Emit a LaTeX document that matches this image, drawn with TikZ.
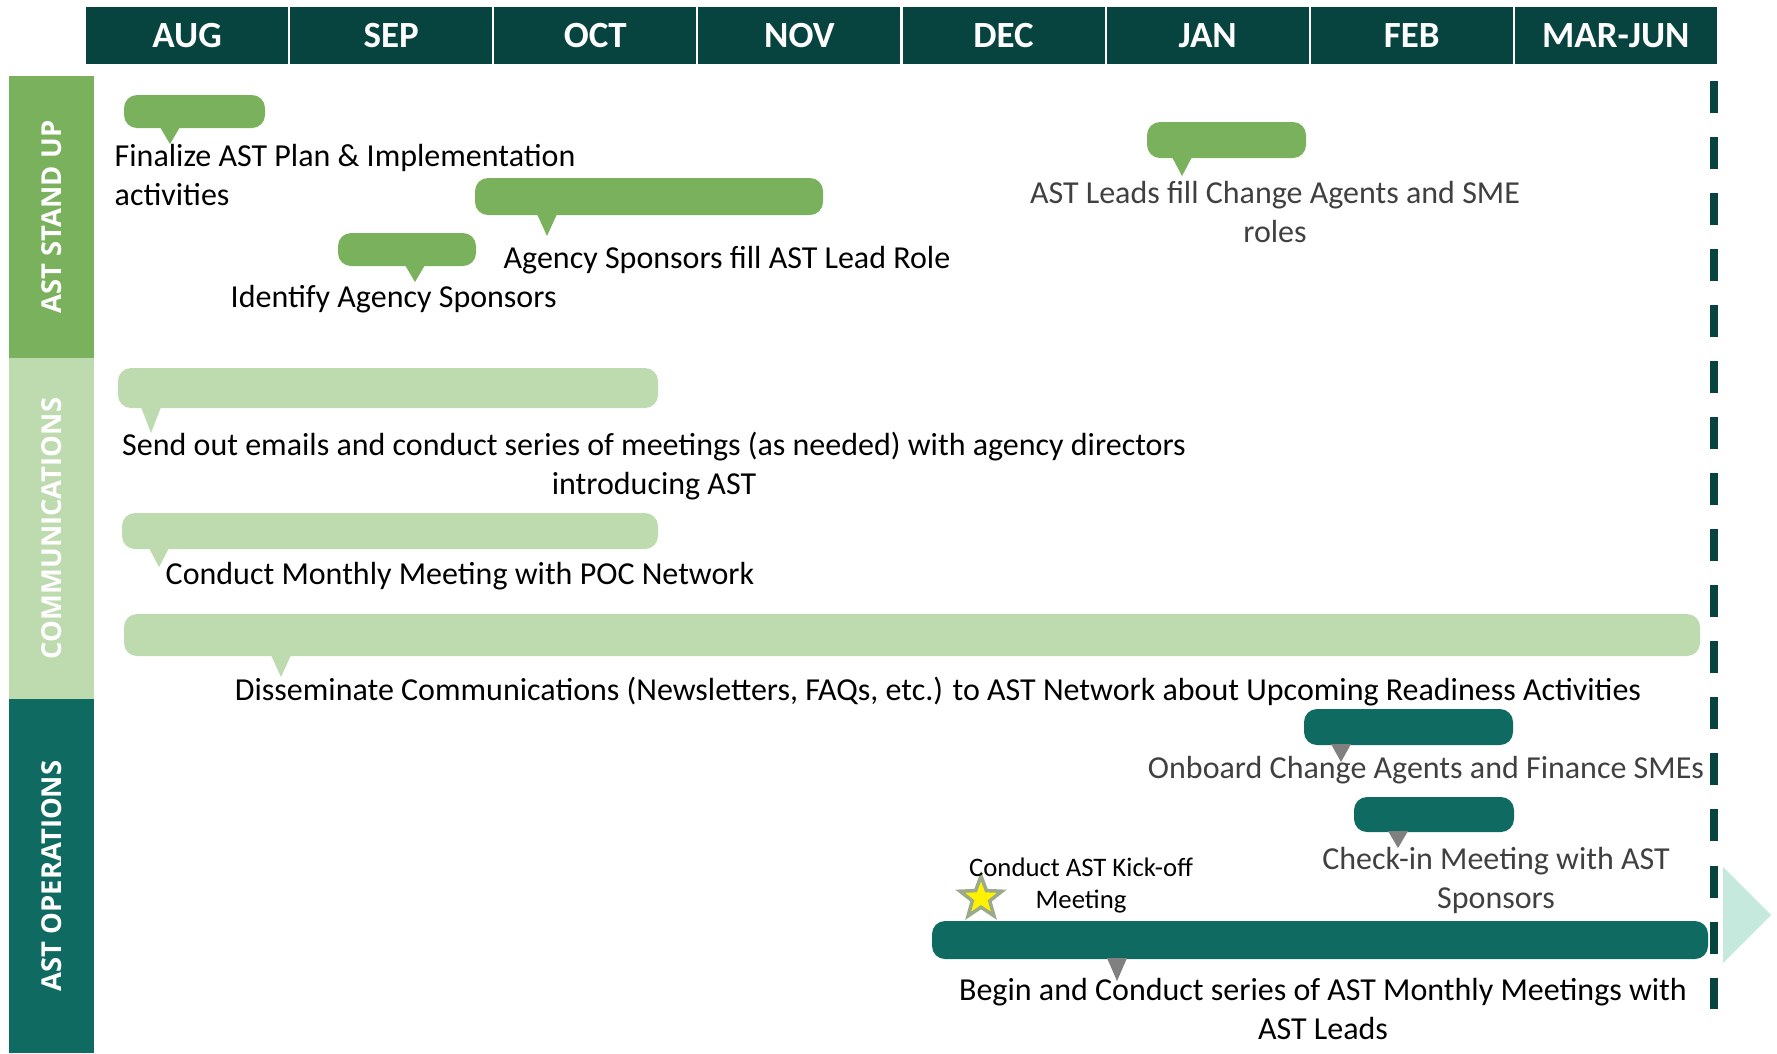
\documentclass[tikz,border=0pt]{standalone}
\usepackage{fontspec}
\setmainfont{Carlito}
\newfontfamily\bandfont{Open Sans}
\usepackage{tikz}
\usetikzlibrary{shapes.geometric}

\definecolor{hdrteal}{HTML}{07443F}
\definecolor{leafgreen}{HTML}{79B15D}
\definecolor{palegreen}{HTML}{BEDAAF}
\definecolor{opsteal}{HTML}{0F6B62}
\definecolor{pointgray}{HTML}{808080}
\definecolor{mintarrow}{HTML}{C5E9DD}
\definecolor{softtext}{HTML}{404040}
\definecolor{starrim}{HTML}{9BAA8A}

% bar with its pointer: name, bar colour, pointer colour, x1, y1, x2, y2, pointer x, tip y
\newcommand{\tlcallout}[9]{%
  \fill[#2, rounded corners=0.13cm] (#4,#5) coordinate (#1-nw) rectangle (#6,#7);
  \fill[#3] ({#8-10},{#7-1}) -- ({#8+10},{#7-1}) -- (#8,#9) coordinate (#1-tip) -- cycle;
}

\begin{document}
\begin{tikzpicture}[x=0.01cm, y=-0.01cm,
    month/.style={fill=hdrteal, draw=white, line width=0.6pt, text=white,
      font=\fontsize{10.5}{12}\selectfont\bfseries, minimum width=2.04cm,
      minimum height=0.59cm, inner sep=0pt},
    band/.style={rotate=90, text=white, font=\bandfont\fontsize{7.8}{9}\selectfont\bfseries,
      minimum height=0.85cm, inner sep=0pt},
    task/.style={font=\fontsize{9.1}{10.95}\selectfont, inner sep=0pt}]
  \useasboundingbox (0,0) rectangle (1777,1053);

  % months
  \foreach \m [count=\i from 0] in {AUG,SEP,OCT,NOV,DEC,JAN,FEB,MAR-JUN}
    \node[month] (m\i) at ({187.1+204.1*\i},35.5) {\m};

  % swim lanes
  \node[band, fill=leafgreen, minimum width=2.82cm] (standup) at (51.5,217) {AST STAND UP};
  \node[band, fill=palegreen, minimum width=3.41cm] (comms) at (51.5,528.5) {COMMUNICATIONS};
  \node[band, fill=opsteal, minimum width=3.54cm] (ops) at (51.5,876) {AST OPERATIONS};

  % end of period
  \draw[hdrteal, line width=0.08cm, dash pattern=on 0.32cm off 0.24cm] (1714,81) -- (1714,1009);
  \fill[mintarrow] (1723,867) -- (1771,915) -- (1723,963) -- cycle;

  % AST stand up
  \tlcallout{final}{leafgreen}{leafgreen}{124}{95}{265}{128}{170}{144}
  \tlcallout{fill}{leafgreen}{leafgreen}{475}{178}{823}{215}{547}{236}
  \tlcallout{ident}{leafgreen}{leafgreen}{338}{233}{476}{266}{415}{282}
  \tlcallout{leads}{leafgreen}{leafgreen}{1147}{122}{1306}{158}{1182}{176}
  \node[task, anchor=base west, align=left] (t-final) at (114,205) {Finalize AST Plan \& Implementation\\activities};
  \node[task, anchor=base west] (t-fill) at (503,268) {Agency Sponsors fill AST Lead Role};
  \node[task, anchor=base west] (t-ident) at (230,307) {Identify Agency Sponsors};
  \node[task, anchor=base, align=center, text=softtext] (t-leads) at (1275,242) {AST Leads fill Change Agents and SME\\roles};

  % communications
  \tlcallout{emails}{palegreen}{palegreen}{118}{368}{658}{408}{151}{433}
  \tlcallout{poc}{palegreen}{palegreen}{122}{513}{658}{549}{159}{567}
  \tlcallout{news}{palegreen}{palegreen}{124}{614}{1700}{656}{281}{677}
  \node[task, anchor=base, align=center] (t-emails) at (654,494) {Send out emails and conduct series of meetings (as needed) with agency directors\\introducing AST};
  \node[task, anchor=base west] (t-poc) at (165,584) {Conduct Monthly Meeting with POC Network};
  \node[task, anchor=base] (t-news) at (938,700) {Disseminate Communications (Newsletters, FAQs, etc.) to AST Network about Upcoming Readiness Activities};

  % AST operations
  \tlcallout{onboard}{opsteal}{pointgray}{1304}{709}{1513}{745}{1341}{762}
  \tlcallout{checkin}{opsteal}{pointgray}{1354}{797}{1514}{832}{1398}{848}
  \tlcallout{monthly}{opsteal}{pointgray}{932}{921}{1708}{959}{1117}{981}
  \node[task, anchor=base, text=softtext] (t-onboard) at (1426,778) {Onboard Change Agents and Finance SMEs};
  \node[task, anchor=base, align=center, text=softtext] (t-checkin) at (1496,908) {Check-in Meeting with AST\\Sponsors};
  \node[task, anchor=base, align=center] (t-monthly) at (1323,1039) {Begin and Conduct series of AST Monthly Meetings with\\AST Leads};
  \node[star, star points=5, star point ratio=2.4, fill=yellow, draw=starrim, line width=1pt,
    minimum size=0.44cm, inner sep=0pt] (kickstar) at (981,898) {};
  \node[task, anchor=base, align=center, font=\fontsize{7.6}{9.1}\selectfont] (t-kick) at (1081,908) {Conduct AST Kick-off\\Meeting};
\end{tikzpicture}
\end{document}
